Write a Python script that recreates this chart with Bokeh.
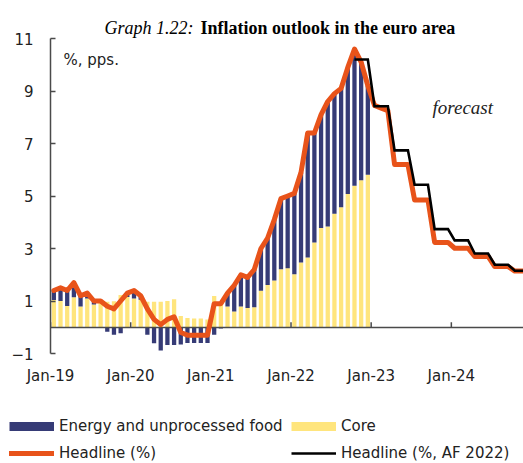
import numpy as np
from bokeh.plotting import figure
from bokeh.layouts import column
from bokeh.models import Range1d, FixedTicker, Legend, LegendItem, Label
from bokeh.embed import file_html
from bokeh.resources import INLINE

# ---------------- data ----------------
tick_labels = ["Jan-19", "Jan-20", "Jan-21", "Jan-22", "Jan-23", "Jan-24"]
y_ticks = [-1, 1, 3, 5, 7, 9, 11]

# Headline HICP inflation, %, Jan-19 .. Dec-24 (actual to Dec-22, forecast afterwards)
headline = [
    1.4, 1.5, 1.4, 1.7, 1.2, 1.3, 1.0, 1.0, 0.8, 0.7, 1.0, 1.3,
    1.4, 1.2, 0.7, 0.3, 0.1, 0.3, 0.4, -0.2, -0.3, -0.3, -0.3, -0.3,
    0.9, 0.9, 1.3, 1.6, 2.0, 1.9, 2.2, 3.0, 3.4, 4.1, 4.9, 5.0,
    5.1, 5.9, 7.4, 7.4, 8.1, 8.6, 8.9, 9.1, 9.9, 10.6, 10.1, 9.2,
    8.45, 8.35, 8.25, 6.2, 6.2, 6.2, 4.85, 4.85, 4.85, 3.23, 3.23, 3.23,
    3.01, 3.01, 3.01, 2.7, 2.7, 2.7, 2.31, 2.31, 2.31, 2.14, 2.14, 2.14,
]

# Headline, %, autumn forecast 2022, Oct-22 .. Dec-24
af2022_start = 45
af2022 = [
    10.2, 10.2, 10.2,
    8.42, 8.42, 8.42, 6.74, 6.74, 6.74, 5.43, 5.43, 5.43, 3.74, 3.74, 3.74,
    3.31, 3.31, 3.31, 2.81, 2.81, 2.81, 2.38, 2.38, 2.38, 2.15, 2.15, 2.15,
]

# Contributions, pps., Jan-19 .. Dec-22
core = [
    1.04, 1.0, 0.81, 1.14, 0.79, 1.1, 0.87, 0.95, 0.97, 0.99, 1.23, 1.15,
    1.1, 1.05, 0.97, 0.97, 0.97, 1.0, 1.07, 0.43, 0.35, 0.33, 0.33, 0.3,
    1.19, 0.85, 0.79, 0.6, 0.79, 0.73, 0.76, 1.39, 1.61, 1.78, 2.21, 2.25,
    2.02, 2.47, 2.66, 3.23, 3.78, 3.84, 4.32, 4.57, 5.08, 5.39, 5.6, 5.81,
]
energy = [
    0.36, 0.5, 0.59, 0.56, 0.41, 0.2, 0.13, 0.05, -0.17, -0.29, -0.23, 0.15,
    0.3, 0.15, -0.29, -0.61, -0.89, -0.68, -0.68, -0.66, -0.6, -0.6, -0.6, -0.6,
    -0.29, -0.05, 0.51, 1.0, 1.21, 1.17, 1.44, 1.61, 1.79, 2.32, 2.69, 2.75,
    3.08, 3.43, 4.74, 4.17, 4.32, 4.76, 4.58, 4.53, 4.82, 5.21, 4.5, 3.39,
]

legend_labels = ["Energy and unprocessed food", "Core", "Headline (%)",
                 "Headline (%, AF 2022)"]

# ---------------- styling ----------------
NAVY = "#363B76"
YELLOW = "#FFE57D"
ORANGE = "#E8531A"
AXIS = "#4a4a4a"
TXT = "#222222"
SANS = "DejaVu Sans"
SERIF = "Liberation Serif"

months = np.arange(len(headline))
bar_x = np.arange(len(core))
core_a = np.array(core)
en_a = np.array(energy)
en_bottom = np.where(en_a > 0, core_a, 0.0)
en_top = np.where(en_a > 0, core_a + en_a, en_a)
tick_pos = [-0.5 + 12 * k for k in range(len(tick_labels))]


def no_frame_align(fig):
    if "frame_align" in fig.properties():
        fig.frame_align = False


# main chart: frame x 50..523, y 0..353 px ; y=11 at 38 px, y=-1 at 353 px
p = figure(width=523, height=405, output_backend="svg", toolbar_location=None,
           x_range=Range1d(-0.5, 70.3), y_range=Range1d(-1, 12.448),
           min_border_left=50, min_border_right=0, min_border_top=0,
           min_border_bottom=52)
no_frame_align(p)
p.outline_line_color = None
p.grid.visible = False
p.background_fill_color = "white"
p.border_fill_color = "white"

p.vbar(x=bar_x, bottom=0, top=core, width=0.64, fill_color=YELLOW, line_color=None)
p.vbar(x=bar_x, bottom=en_bottom, top=en_top, width=0.64, fill_color=NAVY, line_color=None)

# zero line with upward year ticks
p.hspan(y=[0], line_color=AXIS, line_width=1.5)
p.segment(x0=tick_pos, y0=0, x1=tick_pos, y1=0.19, line_color=AXIS, line_width=1.5)

p.line(months, headline, line_color=ORANGE, line_width=5,
       line_join="round", line_cap="round")
p.line(months[af2022_start:], af2022, line_color="black", line_width=2.6,
       line_join="miter")

# axes
ya = p.yaxis[0]
ya.ticker = FixedTicker(ticks=y_ticks)
ya.bounds = (y_ticks[0], y_ticks[-1])
ya.major_tick_in = 5
ya.major_tick_out = 0
ya.minor_tick_line_color = None
ya.axis_line_color = AXIS
ya.axis_line_width = 1.5
ya.major_tick_line_color = AXIS
ya.major_tick_line_width = 1.5
ya.major_label_text_font = SANS
ya.major_label_text_font_size = "15px"
ya.major_label_text_color = TXT
ya.major_label_standoff = 17

xa = p.xaxis[0]
xa.ticker = FixedTicker(ticks=tick_pos)
xa.major_label_overrides = {pos: lab for pos, lab in zip(tick_pos, tick_labels)}
xa.axis_line_color = None
xa.major_tick_line_color = None
xa.minor_tick_line_color = None
xa.major_label_text_font = SANS
xa.major_label_text_font_size = "15px"
xa.major_label_text_color = TXT
xa.major_label_standoff = 7

# texts (screen units, relative to frame bottom-left)
p.add_layout(Label(x=54, y=325.7, x_units="screen", y_units="screen",
                   text="Graph 1.22:", text_font=SERIF, text_font_style="italic",
                   text_font_size="18px", text_color="black", text_baseline="alphabetic"))
p.add_layout(Label(x=150, y=325.7, x_units="screen", y_units="screen",
                   text="Inflation outlook in the euro area", text_font=SERIF,
                   text_font_style="bold", text_font_size="18px", text_color="black",
                   text_baseline="alphabetic"))
p.add_layout(Label(x=13, y=294, x_units="screen", y_units="screen",
                   text="%, pps.", text_font=SANS, text_font_size="15px",
                   text_color=TXT, text_baseline="alphabetic"))
p.add_layout(Label(x=382, y=245.7, x_units="screen", y_units="screen",
                   text="forecast", text_font=SERIF, text_font_style="italic",
                   text_font_size="19px", text_color=TXT, text_baseline="alphabetic"))

# legend strip below the chart (its own full-width frame)
q = figure(width=523, height=58, output_backend="svg", toolbar_location=None,
           x_range=Range1d(-100, -99), y_range=Range1d(-100, -99),
           x_axis_location=None, y_axis_location=None,
           min_border_left=0, min_border_right=0, min_border_top=0, min_border_bottom=0)
no_frame_align(q)
q.outline_line_color = None
q.grid.visible = False
q.background_fill_color = "white"
q.border_fill_color = "white"
# legend key renderers carry the series but stay hidden in this strip
lg_navy = q.line(x=bar_x, y=energy, line_color=NAVY, line_width=9, visible=False)
lg_yellow = q.line(x=bar_x, y=core, line_color=YELLOW, line_width=9, visible=False)
lg_head = q.line(x=months, y=headline, line_color=ORANGE, line_width=5,
                 line_cap="round", visible=False)
lg_af = q.line(x=months[af2022_start:], y=af2022, line_color="black",
               line_width=2.6, visible=False)

legend = Legend(items=[
    LegendItem(label=legend_labels[0], renderers=[lg_navy]),
    LegendItem(label=legend_labels[1], renderers=[lg_yellow]),
    LegendItem(label=legend_labels[2], renderers=[lg_head]),
    LegendItem(label=legend_labels[3], renderers=[lg_af]),
], location=(9, 0), orientation="horizontal", ncols=2)
legend.border_line_color = None
legend.background_fill_alpha = 0
legend.inactive_fill_alpha = 0
legend.padding = 0
legend.margin = 0
legend.spacing = 7
legend.glyph_width = 45
legend.glyph_height = 20
legend.label_height = 20
legend.label_width = 225
legend.label_standoff = 5
legend.label_text_font = SANS
legend.label_text_font_size = "15px"
legend.label_text_color = TXT
q.add_layout(legend)

layout = column(p, q, spacing=0)
open("out.html", "w").write(file_html(layout, INLINE))
